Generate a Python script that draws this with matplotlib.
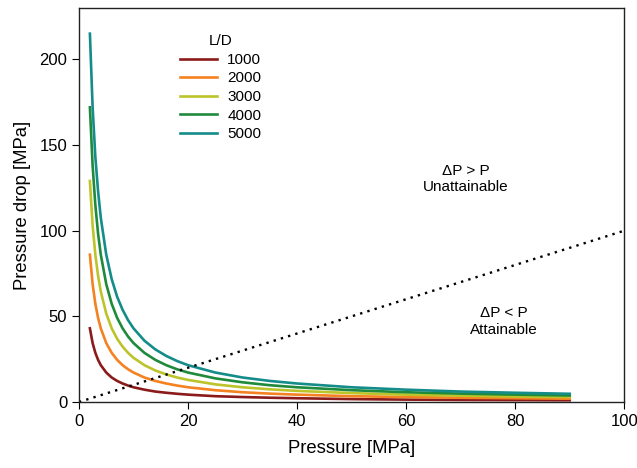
import numpy as np
import matplotlib.pyplot as plt

plt.rcParams['font.family'] = ['Liberation Sans', 'DejaVu Sans']

# values
pressure = [2, 2.5, 3, 3.5, 4, 5, 6, 7, 8, 9, 10, 12, 14, 16, 18, 20,
            25, 30, 35, 40, 50, 60, 70, 80, 90]
ld_labels = ['1000', '2000', '3000', '4000', '5000']
drop_1000 = [43, 34.4, 28.7, 24.6, 21.5, 17.2, 14.3, 12.3, 10.8, 9.6, 8.6, 7.2,
             6.1, 5.4, 4.8, 4.3, 3.4, 2.9, 2.5, 2.2, 1.7, 1.4, 1.2, 1.1, 1.0]
drop_2000 = [86, 68.8, 57.3, 49.1, 43, 34.4, 28.7, 24.6, 21.5, 19.1, 17.2, 14.3,
             12.3, 10.8, 9.6, 8.6, 6.9, 5.7, 4.9, 4.3, 3.4, 2.9, 2.5, 2.2, 1.9]
drop_3000 = [129, 103, 86, 73.7, 64.5, 51.6, 43, 36.9, 32.3, 28.7, 25.8, 21.5,
             18.4, 16.1, 14.3, 12.9, 10.3, 8.6, 7.4, 6.5, 5.2, 4.3, 3.7, 3.2, 2.9]
drop_4000 = [172, 138, 115, 98.3, 86, 68.8, 57.3, 49.1, 43, 38.2, 34.4, 28.7,
             24.6, 21.5, 19.1, 17.2, 13.8, 11.5, 9.8, 8.6, 6.9, 5.7, 4.9, 4.3, 3.8]
drop_5000 = [215, 172, 143, 123, 107.5, 86, 71.7, 61.4, 53.8, 47.8, 43, 35.8,
             30.7, 26.9, 23.9, 21.5, 17.2, 14.3, 12.3, 10.8, 8.6, 7.2, 6.1, 5.4, 4.8]
boundary_x = [0, 100]
boundary_y = [0, 100]

colors = ['#8B1A1A', '#F58220', '#BCC42A', '#1F8A3B', '#148C8A']

fig = plt.figure(figsize=(6.37, 4.68), dpi=100)
ax = fig.add_axes([0.124, 0.141, 0.856, 0.842])

for lab, ys, c in zip(ld_labels, [drop_1000, drop_2000, drop_3000, drop_4000, drop_5000], colors):
    ax.plot(pressure, ys, color=c, linewidth=1.9, label=lab)

# dotted boundary where pressure drop equals pressure
ax.plot(boundary_x, boundary_y, color='black', linestyle=(0, (1, 2.2)), linewidth=1.7)

ax.text(71, 130, 'ΔP > P\nUnattainable', ha='center', va='center', fontsize=11, linespacing=1.2)
ax.text(78, 47, 'ΔP < P\nAttainable', ha='center', va='center', fontsize=11, linespacing=1.2)

ax.set_xlim(0, 100)
ax.set_ylim(0, 230)
ax.set_xticks([0, 20, 40, 60, 80, 100])
ax.set_yticks([0, 50, 100, 150, 200])
ax.tick_params(axis='both', direction='out', length=5, labelsize=12, top=False, right=False)
ax.set_xlabel('Pressure [MPa]', fontsize=13.3, labelpad=8)
ax.set_ylabel('Pressure drop [MPa]', fontsize=13.3, labelpad=6)

for s in ax.spines.values():
    s.set_color('#222222')
    s.set_linewidth(1.0)

leg = ax.legend(title='L/D', loc='upper left', bbox_to_anchor=(0.16, 0.968), frameon=False,
                fontsize=11, title_fontsize=11, handlelength=2.4, labelspacing=0.3,
                handletextpad=0.7)

fig.savefig('out.png', dpi=100)
